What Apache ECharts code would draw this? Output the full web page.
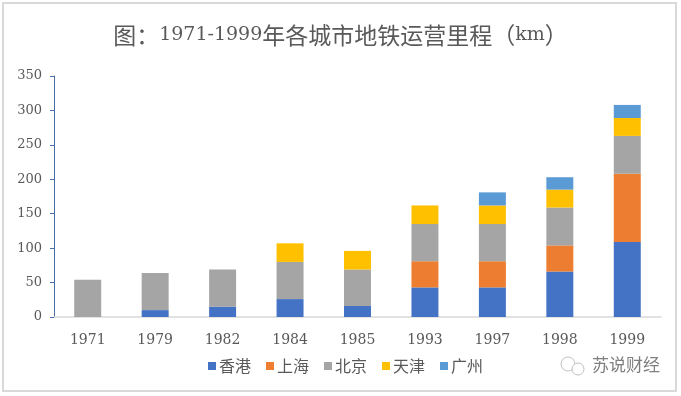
<!DOCTYPE html>
<html>
<head>
<meta charset="utf-8">
<script src="https://cdn.jsdelivr.net/npm/echarts@6/dist/echarts.min.js"></script>
<style>html,body{margin:0;padding:0;background:#fff;}#c{width:681px;height:396px;}</style>
</head>
<body>
<div id="c"></div>
<script>
const categories = ['1971','1979','1982','1984','1985','1993','1997','1998','1999'];
const hongkong  = [0, 10, 15, 26, 16, 43, 43, 66, 109];
const shanghai  = [0, 0, 0, 0, 0, 38, 38, 38, 99];
const beijing   = [54, 54, 54, 54, 53, 54, 54, 55, 55];
const tianjin   = [0, 0, 0, 27, 27, 27, 27, 26, 26];
const guangzhou = [0, 0, 0, 0, 0, 0, 19, 18, 19];
const seriesNames = ['香港','上海','北京','天津','广州'];
const yTicks = [0, 50, 100, 150, 200, 250, 300, 350];

const colors = ['#4472C4','#ED7D31','#A5A5A5','#FFC000','#5B9BD5'];
const serif = '"DejaVu Serif","Noto Sans CJK SC",serif';
const cjk = '"Noto Sans CJK SC",sans-serif';
const dataSets = [hongkong, shanghai, beijing, tianjin, guangzhou];

const chart = echarts.init(document.getElementById('c'));
chart.setOption({
  animation: false,
  color: colors,
  title: {
    text: '{a|图：}{b|1971-1999}{a|年各城市地铁运营里程（}{b|km}{a|）}',
    left: 'center', top: 19,
    textStyle: {
      fontWeight: 'normal', color: '#595959',
      rich: {
        a: {fontFamily: cjk, fontSize: 23, color: '#595959'},
        b: {fontFamily: '"DejaVu Serif",serif', fontSize: 19, color: '#595959'}
      }
    }
  },
  grid: {left: 54, right: 20, top: 76, bottom: 79},
  legend: {
    bottom: 17, left: 203,
    itemWidth: 8, itemHeight: 8, itemGap: 15,
    icon: 'rect',
    textStyle: {fontFamily: cjk, fontSize: 16, color: '#595959', padding: [0,0,0,-2]},
    data: seriesNames
  },
  xAxis: {
    type: 'category', data: categories,
    axisLine: {lineStyle: {color: '#D9D9D9', width: 1.5}},
    axisTick: {show: false},
    axisLabel: {fontFamily: serif, fontSize: 14, color: '#595959', margin: 16}
  },
  yAxis: {
    type: 'value', min: yTicks[0], max: yTicks[yTicks.length-1], interval: 50,
    axisLine: {show: true, lineStyle: {color: '#4A6FA8', width: 1}},
    axisTick: {show: true, inside: false, length: 4, lineStyle: {color: '#4A6FA8'}},
    splitLine: {show: false},
    axisLabel: {fontFamily: serif, fontSize: 13, color: '#595959', margin: 12}
  },
  series: seriesNames.map((n, i) => ({
    name: n, type: 'bar', stack: 'total', barWidth: '40%',
    data: dataSets[i]
  })),
  graphic: [
    {type: 'rect', shape: {x: 3, y: 3, width: 673, height: 388}, style: {fill: 'none', stroke: '#D9D9D9', lineWidth: 2}, silent: true},
    {type: 'circle', shape: {cx: 568, cy: 364, r: 7}, style: {fill: 'none', stroke: '#BFBFBF', lineWidth: 1}},
    {type: 'circle', shape: {cx: 578, cy: 369, r: 6}, style: {fill: '#fff', stroke: '#BFBFBF', lineWidth: 1}},
    {type: 'text', left: 592, top: 356, style: {text: '苏说财经', fontFamily: cjk, fontSize: 17, fill: '#7F7F7F'}}
  ]
});
</script>
</body>
</html>
